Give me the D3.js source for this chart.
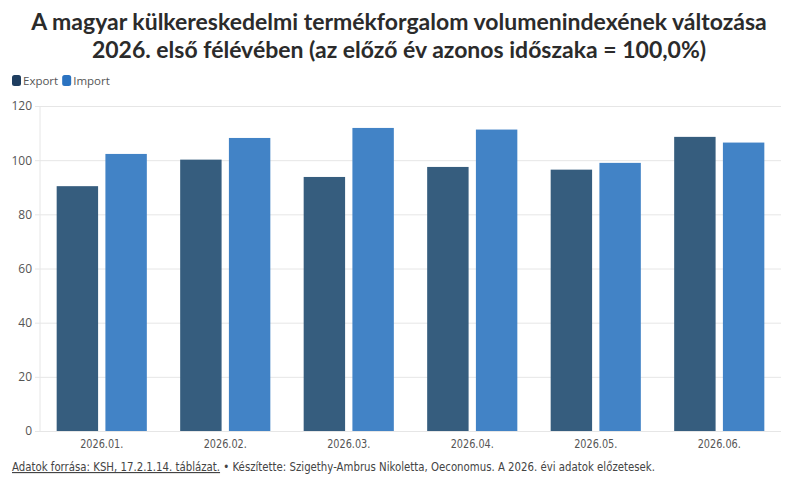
<!DOCTYPE html>
<html>
<head>
<meta charset="utf-8">
<script src="https://cdn.jsdelivr.net/npm/d3@7"></script>
<style>
  body { margin: 0; background: #fff; }
  svg { display: block; }
</style>
</head>
<body>
<div id="container"></div>
<script>
/* DATA */
const months = ["2026.01.", "2026.02.", "2026.03.", "2026.04.", "2026.05.", "2026.06."];
const series = ["Export", "Import"];
const exportValues = [90.4, 100.2, 93.8, 97.5, 96.5, 108.6];
const importValues = [102.3, 108.2, 111.9, 111.3, 99.0, 106.5];
const yTicks = [0, 20, 40, 60, 80, 100, 120];
const titleLines = [
  "A magyar külkereskedelmi termékforgalom volumenindexének változása",
  "2026. első félévében (az előző év azonos időszaka = 100,0%)"
];

/* CONSTANTS */
const width = 800;
const height = 483;
const margin = { top: 106, right: 19, bottom: 52, left: 40 };
const barColors = { Export: "#365d7e", Import: "#4283c6" };
const legendColors = { Export: "#1f3e60", Import: "#2b73c1" };

const data = months.map((m, i) => ({ month: m, Export: exportValues[i], Import: importValues[i] }));

const svg = d3.select("#container")
  .append("svg")
  .attr("width", width)
  .attr("height", height)
  .style("font-family", "'Open Sans', sans-serif");

/* SCALES */
const x0 = d3.scaleBand()
  .domain(months)
  .range([margin.left, width - margin.right])
  .paddingInner(0.27)
  .paddingOuter(0.135);

const x1 = d3.scaleBand()
  .domain(series)
  .range([0, x0.bandwidth()])
  .paddingInner(0.15);

const y = d3.scaleLinear()
  .domain([0, 120])
  .range([height - margin.bottom, margin.top]);

/* TITLE */
const title = svg.append("g");
titleLines.forEach((t, i) => {
  title.append("text")
    .attr("x", 399)
    .attr("y", 30 + i * 28)
    .attr("text-anchor", "middle")
    .style("font-family", "Lato, 'Open Sans', sans-serif")
    .style("font-size", "22px")
    .style("font-weight", 700)
    .style("fill", "#2b2b2b")
    .text(t);
});
// fit first line to ~760px, second follows same scale
const w0 = title.select("text").node().getComputedTextLength();
const fs = Math.min(23, 22 * 760 / w0);
title.selectAll("text").style("font-size", fs + "px");

/* LEGEND */
const legend = svg.append("g").attr("transform", "translate(12,75)");
let lx = 0;
series.forEach(s => {
  const g = legend.append("g").attr("transform", `translate(${lx},0)`);
  g.append("rect")
    .attr("width", 9).attr("height", 11).attr("rx", 2.5)
    .attr("fill", legendColors[s]);
  const t = g.append("text")
    .attr("x", 11).attr("y", 9.5)
    .style("font-size", "11.5px")
    .style("fill", "#555")
    .text(s);
  lx += 11 + t.node().getComputedTextLength() + 4;
});

/* GRID + Y AXIS */
const yAxis = svg.append("g")
  .attr("transform", `translate(${margin.left},0)`)
  .call(d3.axisLeft(y).tickValues(yTicks).tickSize(5).tickPadding(3))
  .call(g => g.select(".domain").remove());
yAxis.selectAll(".tick line")
  .attr("x1", -5)
  .attr("x2", width - margin.right - margin.left)
  .attr("stroke", "#e6e6e6");
yAxis.selectAll(".tick text")
  .style("font-size", "12px")
  .style("fill", "#555")
  .style("font-family", "'Open Sans', sans-serif");

svg.append("line")
  .attr("x1", margin.left).attr("x2", margin.left)
  .attr("y1", y(120)).attr("y2", y(0))
  .attr("stroke", "#e6e6e6");

/* BARS */
svg.append("g")
  .selectAll("g")
  .data(data)
  .join("g")
  .attr("transform", d => `translate(${x0(d.month)},0)`)
  .selectAll("rect")
  .data(d => series.map(s => ({ key: s, value: d[s] })))
  .join("rect")
  .attr("x", d => x1(d.key))
  .attr("y", d => y(d.value))
  .attr("width", x1.bandwidth())
  .attr("height", d => y(0) - y(d.value))
  .attr("fill", d => barColors[d.key]);

/* X AXIS */
const xAxis = svg.append("g")
  .attr("transform", `translate(0,${y(0)})`)
  .call(d3.axisBottom(x0).tickSize(0).tickPadding(8))
  .call(g => g.select(".domain").remove());
xAxis.selectAll(".tick text")
  .style("font-size", "12px")
  .style("fill", "#555")
  .style("font-family", "'DejaVu Sans Condensed', 'Liberation Sans Narrow', sans-serif")
  .style("font-stretch", "condensed")
  .attr("transform", "scale(0.9,1)");

/* FOOTER */
const footer = svg.append("text")
  .attr("x", 12).attr("y", 471)
  .style("font-size", "11.5px")
  .style("fill", "#444")
  .style("font-family", "'Liberation Sans Narrow', 'DejaVu Sans Condensed', sans-serif");
footer.append("tspan")
  .style("text-decoration", "underline")
  .text("Adatok forrása: KSH, 17.2.1.14. táblázat.");
footer.append("tspan")
  .text(" • Készítette: Szigethy-Ambrus Nikoletta, Oeconomus. A 2026. évi adatok előzetesek.");
footer.attr("textLength", 643).attr("lengthAdjust", "spacingAndGlyphs");
</script>
</body>
</html>
